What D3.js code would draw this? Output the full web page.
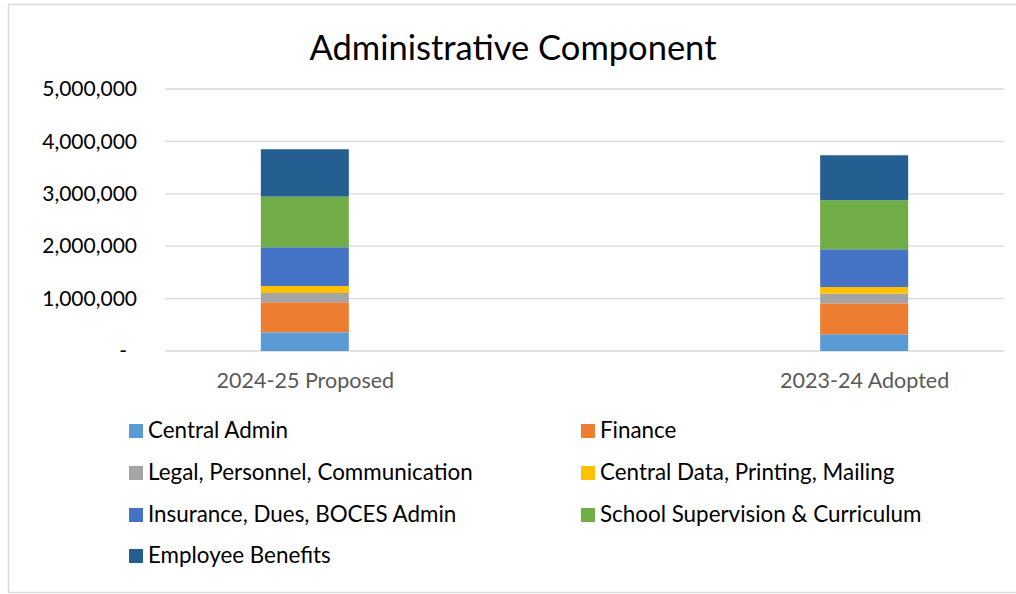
<!DOCTYPE html>
<html>
<head>
<meta charset="utf-8">
<script src="https://cdn.jsdelivr.net/npm/d3@7"></script>
<style>
  body { margin: 0; background: #fff; }
  text { font-family: Lato, "Open Sans", sans-serif; }
</style>
</head>
<body>
<div class="container"></div>
<script>
const categories = ["2024-25 Proposed", "2023-24 Adopted"];
const seriesNames = [
  "Central Admin",
  "Finance",
  "Legal, Personnel, Communication",
  "Central Data, Printing, Mailing",
  "Insurance, Dues, BOCES Admin",
  "School Supervision & Curriculum",
  "Employee Benefits"
];
const seriesColors = ["#5b9bd5", "#ed7d31", "#a5a5a5", "#ffc000", "#4472c4", "#70ad47", "#255e91"];
// values per series, [2024-25, 2023-24]
const centralAdmin = [357000, 319000];
const finance = [572000, 591000];
const legal = [178000, 184000];
const centralData = [134000, 127000];
const insurance = [739000, 720000];
const supervision = [966000, 935000];
const benefits = [904000, 859000];
const yTicks = [0, 1000000, 2000000, 3000000, 4000000, 5000000];

const seriesValues = [centralAdmin, finance, legal, centralData, insurance, supervision, benefits];

const W = 1016, H = 594;
const svg = d3.select(".container").append("svg")
  .attr("width", W).attr("height", H);

// chart border
svg.append("rect")
  .attr("x", 8.5).attr("y", 4.5)
  .attr("width", W + 10).attr("height", 588)
  .attr("fill", "#fff").attr("stroke", "#d9d9d9").attr("stroke-width", 1.5);

svg.append("text")
  .attr("x", 513).attr("y", 60)
  .attr("text-anchor", "middle")
  .attr("font-size", 34.5)
  .attr("fill", "#000")
  .text("Administrative Component");

const plot = { left: 165, right: 1004, top: 89, bottom: 351 };

const y = d3.scaleLinear().domain([0, 5000000]).range([plot.bottom, plot.top]);
const x = d3.scalePoint().domain(categories).range([plot.left, plot.right]).padding(0.25);
const barW = 88;

// gridlines
svg.append("g").selectAll("line").data(yTicks).enter().append("line")
  .attr("x1", plot.left).attr("x2", plot.right)
  .attr("y1", d => y(d)).attr("y2", d => y(d))
  .attr("stroke", "#d9d9d9").attr("stroke-width", 1.3);

// y axis labels
const fmt = d3.format(",");
const yAxis = d3.axisLeft(y).tickValues(yTicks).tickSize(0).tickPadding(28)
  .tickFormat(d => d === 0 ? "-" : fmt(d));
const gy = svg.append("g").attr("transform", `translate(${plot.left},0)`).call(yAxis);
gy.select(".domain").remove();
gy.selectAll("text")
  .attr("font-size", 21).attr("fill", "#000")
  .attr("font-family", "Lato, sans-serif")
  .attr("dx", d => d === 0 ? -10 : 0);

// stacked bars
const table = categories.map((c, i) => {
  const row = { category: c };
  seriesNames.forEach((s, k) => { row[s] = seriesValues[k][i]; });
  return row;
});
const stacked = d3.stack().keys(seriesNames)(table);

svg.append("g").selectAll("g").data(stacked).enter().append("g")
  .attr("fill", (d, i) => seriesColors[i])
  .selectAll("rect").data(d => d).enter().append("rect")
  .attr("x", d => x(d.data.category) - barW / 2)
  .attr("width", barW)
  .attr("y", d => y(d[1]))
  .attr("height", d => y(d[0]) - y(d[1]));

// x axis labels
const xAxis = d3.axisBottom(x).tickSize(0).tickPadding(22);
const gx = svg.append("g").attr("transform", `translate(0,${plot.bottom})`).call(xAxis);
gx.select(".domain").remove();
gx.selectAll("text")
  .attr("font-size", 21.5).attr("fill", "#595959")
  .attr("font-family", "Lato, sans-serif");

// legend: two columns
const legendCols = [129, 581];
const legendRowY = [431, 473, 515, 556];
const legend = svg.append("g").selectAll("g").data(seriesNames).enter().append("g")
  .attr("transform", (d, i) => `translate(${legendCols[i % 2]},${legendRowY[Math.floor(i / 2)]})`);
legend.append("rect")
  .attr("x", 0).attr("y", -7).attr("width", 14).attr("height", 14)
  .attr("fill", (d, i) => seriesColors[i]);
legend.append("text")
  .attr("x", 19).attr("y", 7)
  .attr("font-size", 22.4).attr("fill", "#000")
  .text(d => d);
</script>
</body>
</html>
